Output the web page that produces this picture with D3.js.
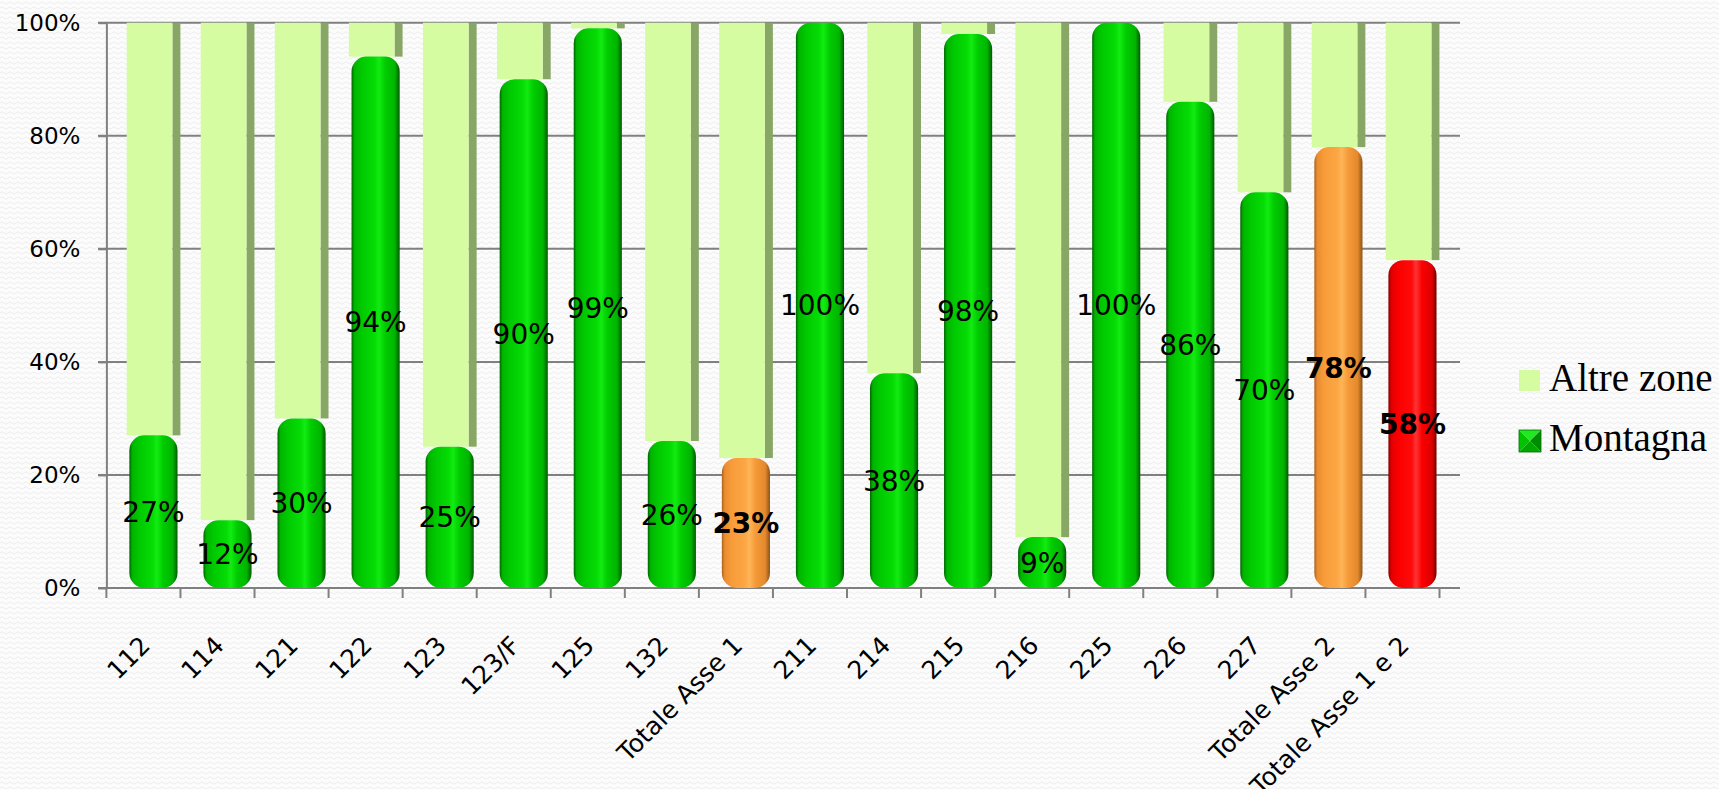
<!DOCTYPE html>
<html>
<head>
<meta charset="utf-8">
<script src="https://cdn.jsdelivr.net/npm/d3@7"></script>
<style>
  body { margin: 0; background: #fbfbfb; }
  svg { display: block; }
</style>
</head>
<body>
<script>
// Montagna vs Altre zone, share by measure (100% stacked)

const categories = ["112", "114", "121", "122", "123", "123/F", "125", "132", "Totale Asse 1",
  "211", "214", "215", "216", "225", "226", "227", "Totale Asse 2", "Totale Asse 1 e 2"];
const montagna = [27, 12, 30, 94, 25, 90, 99, 26, 23, 100, 38, 98, 9, 100, 86, 70, 78, 58];
const altreZone = [73, 88, 70, 6, 75, 10, 1, 74, 77, 0, 62, 2, 91, 0, 14, 30, 22, 42];
const barGroup = ["misura", "misura", "misura", "misura", "misura", "misura", "misura", "misura", "asse",
  "misura", "misura", "misura", "misura", "misura", "misura", "misura", "asse", "totale"];
const yTicks = [0, 20, 40, 60, 80, 100];
const seriesNames = ["Altre zone", "Montagna"];

const w = 1719;
const h = 789;

const svg = d3.select("body")
  .append("svg")
  .attr("width", w)
  .attr("height", h);

const defs = svg.append("defs");

// faint wavy paper texture
const pat = defs.append("pattern")
  .attr("id", "paper")
  .attr("width", 8)
  .attr("height", 5)
  .attr("patternUnits", "userSpaceOnUse");
pat.append("rect").attr("width", 8).attr("height", 5).attr("fill", "#fcfcfc");
pat.append("path")
  .attr("d", "M0 3 Q2 0.5 4 3 T8 3")
  .attr("fill", "none")
  .attr("stroke", "#ececec")
  .attr("stroke-width", 1);

svg.append("rect").attr("width", w).attr("height", h).attr("fill", "url(#paper)");

// cylinder shading per group
const shades = {
  misura: ["#006400", "#00b400", "#00c800", "#05dc05", "#12ec12", "#00cc00", "#00b400", "#005a00"],
  asse:   ["#a8621c", "#ea8c30", "#f89c3a", "#fca644", "#ffb658", "#f49a38", "#e48a2e", "#8e5216"],
  totale: ["#8a0000", "#e00000", "#fa0000", "#ff0a0a", "#ff3434", "#fa0000", "#e00000", "#7a0000"]
};
const stops = [0, 0.06, 0.2, 0.48, 0.57, 0.7, 0.9, 1];

Object.keys(shades).forEach(k => {
  const lg = defs.append("linearGradient")
    .attr("id", "cyl-" + k)
    .attr("x1", 0).attr("x2", 1).attr("y1", 0).attr("y2", 0);
  lg.selectAll("stop")
    .data(shades[k])
    .enter()
    .append("stop")
    .attr("offset", (d, i) => stops[i])
    .attr("stop-color", d => d);
});

const x = d3.scaleBand()
  .domain(categories)
  .range([106.4, 1439.5])
  .padding(0);

const y = d3.scaleLinear()
  .domain([0, 100])
  .range([588, 22.7]);

const bw = x.bandwidth();
const gridColor = "#808080";

// gridlines
svg.append("g")
  .selectAll("line")
  .data(yTicks)
  .enter()
  .append("line")
  .attr("x1", 98)
  .attr("x2", 1460)
  .attr("y1", d => y(d))
  .attr("y2", d => y(d))
  .attr("stroke", gridColor)
  .attr("stroke-width", 2);

// y axis
const yAxis = svg.append("g")
  .attr("transform", `translate(${x.range()[0]},0)`)
  .call(d3.axisLeft(y)
    .tickValues(yTicks)
    .tickSize(8)
    .tickSizeOuter(0)
    .tickPadding(18)
    .tickFormat(d => d + "%"));

yAxis.selectAll("path, line").attr("stroke", gridColor).attr("stroke-width", 2);
yAxis.selectAll("text")
  .attr("font-family", "DejaVu Sans, Verdana, sans-serif")
  .attr("font-size", "23px")
  .attr("fill", "#000");

// category boundary ticks
const bounds = categories.map(c => x(c)).concat([x.range()[1]]);
svg.append("g")
  .selectAll("line")
  .data(bounds)
  .enter()
  .append("line")
  .attr("x1", d => d)
  .attr("x2", d => d)
  .attr("y1", y(0))
  .attr("y2", y(0) + 10)
  .attr("stroke", gridColor)
  .attr("stroke-width", 2);

const rows = categories.map((c, i) => ({
  cat: c,
  montagna: montagna[i],
  altre: altreZone[i],
  group: barGroup[i]
}));

// Altre zone: flat pale bars with a darker side
const altre = svg.append("g");
altre.selectAll("rect.side")
  .data(rows)
  .enter()
  .append("rect")
  .attr("class", "side")
  .attr("x", d => x(d.cat) + bw * 0.891)
  .attr("y", d => y(d.montagna + d.altre))
  .attr("width", bw * 0.108)
  .attr("height", d => y(d.montagna) - y(d.montagna + d.altre))
  .attr("fill", "#88a766");

altre.selectAll("rect.front")
  .data(rows)
  .enter()
  .append("rect")
  .attr("class", "front")
  .attr("x", d => x(d.cat) + bw * 0.274)
  .attr("y", d => y(d.montagna + d.altre))
  .attr("width", bw * 0.617)
  .attr("height", d => y(d.montagna) - y(d.montagna + d.altre))
  .attr("fill", "#d5fca1");

// Montagna: rounded cylinders
svg.append("g")
  .selectAll("rect")
  .data(rows)
  .enter()
  .append("rect")
  .attr("x", d => x(d.cat) + bw * 0.31)
  .attr("y", d => y(d.montagna))
  .attr("width", bw * 0.65)
  .attr("height", d => y(0) - y(d.montagna))
  .attr("rx", 15)
  .attr("ry", 15)
  .attr("fill", d => `url(#cyl-${d.group})`);

// data labels
svg.append("g")
  .selectAll("text")
  .data(rows)
  .enter()
  .append("text")
  .attr("x", d => x(d.cat) + bw / 2 + 10)
  .attr("y", d => y(d.montagna / 2))
  .attr("dy", "0.36em")
  .attr("text-anchor", "middle")
  .attr("font-family", "DejaVu Sans, Verdana, sans-serif")
  .attr("font-size", "28px")
  .attr("font-weight", d => d.group === "misura" ? "normal" : "bold")
  .attr("fill", "#000")
  .text(d => d.montagna + "%");

// x axis labels, rotated
const xAxis = svg.append("g")
  .attr("transform", `translate(0,${y(0)})`)
  .call(d3.axisBottom(x).tickSize(0).tickPadding(0));

xAxis.select(".domain").remove();
xAxis.selectAll("text")
  .attr("x", 0)
  .attr("y", 0)
  .attr("dy", 0)
  .attr("transform", "translate(8,59) rotate(-45)")
  .attr("text-anchor", "end")
  .attr("font-family", "DejaVu Sans, Verdana, sans-serif")
  .attr("font-size", "25px")
  .attr("fill", "#000");

// legend
const legend = svg.append("g")
  .attr("transform", "translate(1519,370)");

const legendItem = legend.selectAll("g")
  .data(seriesNames)
  .enter()
  .append("g")
  .attr("transform", (d, i) => `translate(0, ${i * 60})`);

legendItem.filter((d, i) => i === 0)
  .append("rect")
  .attr("width", 21)
  .attr("height", 21)
  .attr("fill", "#d5fca1");

// bevelled square for the Montagna swatch
const bevel = legendItem.filter((d, i) => i === 1);
const facets = [
  ["M0,0 L22,0 L11,11 Z", "#22e822"],
  ["M0,0 L11,11 L0,22 Z", "#00c400"],
  ["M22,0 L22,22 L11,11 Z", "#008c00"],
  ["M0,22 L11,11 L22,22 Z", "#00a800"]
];
bevel.selectAll("path")
  .data(facets)
  .enter()
  .append("path")
  .attr("d", d => d[0])
  .attr("fill", d => d[1]);
bevel.append("rect")
  .attr("width", 22)
  .attr("height", 22)
  .attr("fill", "none")
  .attr("stroke", "#007000")
  .attr("stroke-width", 0.8);

legendItem.append("text")
  .attr("x", 30)
  .attr("y", 21)
  .attr("font-family", "Liberation Serif, Times New Roman, serif")
  .attr("font-size", "39px")
  .attr("fill", "#000")
  .text(d => d);
</script>
</body>
</html>
